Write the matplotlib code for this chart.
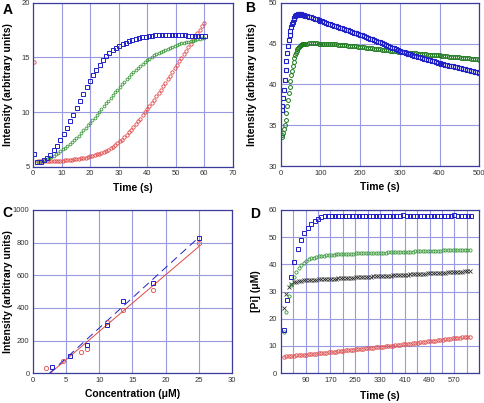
import numpy as np
import matplotlib
matplotlib.use('Agg')
from matplotlib import pyplot as plt

plt.rcParams['font.family'] = ['Liberation Sans', 'DejaVu Sans']

# ---------------- panel A: intensity vs time ----------------
a_blue_t = np.r_[0.3, np.arange(1.5, 60.2, 1.15)]
a_blue = [6.15,
          5.45, 5.45, 5.6, 5.8, 6.1, 6.5, 6.95, 7.45, 8.0, 8.55,
          9.15, 9.75, 10.4, 11.05, 11.7, 12.3, 12.85, 13.4, 13.9, 14.35,
          14.75, 15.1, 15.4, 15.65, 15.85, 16.05, 16.2, 16.35, 16.5, 16.6,
          16.7, 16.78, 16.85, 16.9, 16.95, 17.0, 17.02, 17.05, 17.08, 17.1,
          17.1, 17.1, 17.08, 17.05, 17.05, 17.02, 17.0, 17.0, 17.0, 17.0,
          16.98, 16.95]
a_green_t = np.arange(1.6, 60.05, 0.8)
a_green = [5.45, 5.45, 5.5, 5.6, 5.7, 5.8, 5.9, 6.0, 6.15, 6.3,
           6.45, 6.6, 6.75, 6.9, 7.05, 7.25, 7.45, 7.65, 7.85, 8.1,
           8.35, 8.55, 8.8, 9.0, 9.25, 9.5, 9.75, 10.0, 10.3, 10.55,
           10.8, 11.05, 11.3, 11.6, 11.85, 12.05, 12.3, 12.55, 12.8, 13.0,
           13.25, 13.45, 13.65, 13.85, 14.05, 14.25, 14.45, 14.6, 14.75, 14.9,
           15.05, 15.2, 15.3, 15.42, 15.53, 15.63, 15.73, 15.82, 15.9, 16.0,
           16.07, 16.15, 16.22, 16.28, 16.35, 16.4, 16.45, 16.5, 16.55, 16.6,
           16.65, 16.7, 16.75, 16.8]
a_red_t = np.r_[0.5, np.arange(1.6, 60.05, 0.8)]
a_red = [14.6,
         5.5, 5.5, 5.5, 5.5, 5.5, 5.5, 5.52, 5.52, 5.53, 5.55,
         5.55, 5.57, 5.58, 5.6, 5.62, 5.65, 5.68, 5.7, 5.73, 5.77,
         5.8, 5.85, 5.9, 5.95, 6.0, 6.07, 6.13, 6.2, 6.28, 6.37,
         6.47, 6.58, 6.7, 6.85, 7.0, 7.15, 7.32, 7.5, 7.7, 7.92,
         8.15, 8.4, 8.65, 8.9, 9.15, 9.42, 9.7, 9.98, 10.25, 10.55,
         10.85, 11.15, 11.45, 11.75, 12.05, 12.37, 12.7, 13.02, 13.35, 13.68,
         14.0, 14.32, 14.65, 14.97, 15.3, 15.62, 15.95, 16.27, 16.58, 16.9,
         17.2, 17.5, 17.85, 18.2]

# ---------------- panel B: longer time course ----------------
b_t = np.r_[np.arange(2, 61, 2), np.arange(65, 501, 5)]
b_blue = [36.9, 37.4, 38.3, 39.3, 40.5, 41.8, 42.9, 43.9, 44.7, 45.4,
          46.0, 46.6, 47.0, 47.4, 47.7, 48.0, 48.2, 48.35, 48.45, 48.5,
          48.55, 48.6, 48.6, 48.6, 48.58, 48.55, 48.52, 48.5, 48.47, 48.43,
          48.37, 48.3, 48.22, 48.14, 48.05, 47.97, 47.88, 47.8, 47.72, 47.63,
          47.55, 47.46, 47.38, 47.29, 47.21, 47.12, 47.04, 46.95, 46.87, 46.78,
          46.7, 46.61, 46.53, 46.44, 46.36, 46.27, 46.19, 46.1, 46.0, 45.91,
          45.82, 45.72, 45.62, 45.53, 45.44, 45.34, 45.25, 45.15, 45.05, 44.94,
          44.84, 44.73, 44.63, 44.52, 44.42, 44.31, 44.21, 44.1, 44.02, 43.94,
          43.86, 43.78, 43.7, 43.62, 43.54, 43.46, 43.38, 43.3, 43.23, 43.16,
          43.09, 43.02, 42.95, 42.88, 42.81, 42.74, 42.67, 42.6, 42.54, 42.48,
          42.43, 42.37, 42.31, 42.25, 42.2, 42.14, 42.08, 42.02, 41.97, 41.91,
          41.85, 41.79, 41.74, 41.68, 41.62, 41.56, 41.51, 41.45]
b_green = [33.6, 33.8, 34.1, 34.5, 35.0, 35.7, 36.5, 37.3, 38.1, 38.9,
           39.7, 40.4, 41.1, 41.7, 42.3, 42.8, 43.2, 43.6, 43.9, 44.15,
           44.35, 44.5, 44.63, 44.73, 44.8, 44.86, 44.9, 44.93, 44.95, 44.97,
           45.0, 45.02, 45.03, 45.03, 45.02, 45.02, 45.01, 45.0, 44.99, 44.98,
           44.97, 44.96, 44.95, 44.94, 44.92, 44.9, 44.88, 44.86, 44.84, 44.81,
           44.79, 44.76, 44.73, 44.7, 44.68, 44.65, 44.62, 44.6, 44.57, 44.54,
           44.51, 44.48, 44.45, 44.42, 44.39, 44.36, 44.33, 44.3, 44.27, 44.24,
           44.21, 44.18, 44.15, 44.12, 44.09, 44.06, 44.03, 44.0, 43.97, 43.95,
           43.92, 43.9, 43.87, 43.85, 43.82, 43.8, 43.77, 43.75, 43.72, 43.7,
           43.67, 43.65, 43.62, 43.6, 43.58, 43.56, 43.6, 43.55, 43.52, 43.5,
           43.47, 43.45, 43.42, 43.4, 43.37, 43.35, 43.32, 43.3, 43.27, 43.25,
           43.22, 43.2, 43.18, 43.15, 43.13, 43.1, 43.08, 43.05]

# ---------------- panel C: calibration ----------------
c_blue_x = [2.9, 5.6, 8.1, 11.2, 13.6, 18.1, 25.0]
c_blue = [40, 105, 170, 297, 443, 555, 828]
c_red_x = [2.0, 4.6, 7.2, 8.2, 11.2, 13.6, 18.1, 25.0]
c_red = [32, 73, 130, 147, 312, 388, 512, 800]
c_blue_fit_x = [2.5, 24.7]
c_blue_fit = [0, 820]
c_red_fit_x = [2.6, 25.0]
c_red_fit = [0, 775]

# ---------------- panel D: [Pi] vs time ----------------
d_blue_t = np.arange(20, 626, 11)
d_blue = [16.0, 27.0, 35.2, 41.0, 45.7, 49.0, 51.5, 53.4, 54.9, 56.0,
          56.8, 57.3, 57.6, 57.7, 57.8, 57.7, 57.8, 57.9, 57.7, 57.8,
          57.7, 57.8, 57.8, 57.7, 57.8, 57.9, 57.7, 57.8, 57.7, 57.8,
          57.8, 57.7, 57.8, 57.7, 57.8, 58.0, 57.7, 57.6, 57.7, 57.8,
          57.6, 57.7, 57.8, 57.7, 57.6, 57.8, 57.7, 57.8, 57.7, 57.9,
          58.1, 57.8, 57.6, 57.6, 57.7, 57.6]
d_t = np.arange(20, 621, 8)
d_green = [15.3, 22.5, 28.5, 32.5, 35.3, 37.2, 38.6, 39.7, 40.6, 41.3,
           41.8, 42.2, 42.5, 42.75, 42.95, 43.1, 43.25, 43.35, 43.45, 43.55,
           43.6, 43.65, 43.7, 43.75, 43.8, 43.85, 43.9, 43.9, 43.95, 44.0,
           44.0, 44.05, 44.1, 44.1, 44.15, 44.2, 44.2, 44.25, 44.3, 44.3,
           44.35, 44.35, 44.4, 44.45, 44.45, 44.5, 44.5, 44.55, 44.6, 44.6,
           44.65, 44.7, 44.7, 44.75, 44.8, 44.8, 44.85, 44.9, 44.9, 44.95,
           45.0, 45.0, 45.05, 45.05, 45.1, 45.1, 45.15, 45.2, 45.2, 45.25,
           45.3, 45.3, 45.35, 45.35, 45.4, 45.45]
d_black = [23.8, 29.0, 31.5, 32.8, 33.4, 33.7, 33.9, 34.0, 34.1, 34.2,
           34.25, 34.3, 34.35, 34.4, 34.45, 34.5, 34.55, 34.6, 34.65, 34.7,
           34.75, 34.8, 34.85, 34.9, 34.95, 35.0, 35.05, 35.1, 35.15, 35.2,
           35.25, 35.3, 35.35, 35.4, 35.45, 35.5, 35.55, 35.6, 35.65, 35.7,
           35.75, 35.8, 35.85, 35.9, 35.95, 36.0, 36.05, 36.1, 36.15, 36.2,
           36.25, 36.3, 36.35, 36.4, 36.45, 36.5, 36.55, 36.6, 36.65, 36.7,
           36.75, 36.8, 36.85, 36.9, 36.95, 37.0, 37.05, 37.1, 37.15, 37.2,
           37.25, 37.3, 37.35, 37.4, 37.45, 37.5]
d_red = [6.1, 6.18, 6.26, 6.34, 6.42, 6.5, 6.58, 6.66, 6.74, 6.82,
         6.9, 7.0, 7.1, 7.2, 7.3, 7.4, 7.5, 7.6, 7.68, 7.77,
         7.87, 7.96, 8.06, 8.15, 8.25, 8.35, 8.45, 8.55, 8.64, 8.73,
         8.82, 8.92, 9.01, 9.1, 9.2, 9.29, 9.39, 9.48, 9.58, 9.67,
         9.77, 9.87, 9.97, 10.07, 10.17, 10.27, 10.37, 10.47, 10.57, 10.67,
         10.78, 10.89, 11.0, 11.11, 11.22, 11.33, 11.44, 11.55, 11.66, 11.77,
         11.88, 11.99, 12.1, 12.21, 12.32, 12.43, 12.54, 12.65, 12.76, 12.87,
         12.97, 13.07, 13.17, 13.27, 13.37, 13.47]

blue = '#2020c8'
green = '#3c9a3c'
red = '#e04848'
gridc = '#9a9ae0'
framec = '#3c3c9c'
tickfont = ['Liberation Sans Narrow', 'Liberation Sans', 'DejaVu Sans']
lab = dict(fontsize=7.5, fontweight='bold')


def style(ax, xlim, ylim, xticks, yticks):
    ax.set_xlim(*xlim)
    ax.set_ylim(*ylim)
    ax.set_xticks(xticks)
    ax.set_yticks(yticks)
    ax.grid(True, color=gridc, lw=0.8)
    ax.set_axisbelow(True)
    for s in ax.spines.values():
        s.set_color(framec)
        s.set_linewidth(0.9)
    ax.tick_params(length=0, labelsize=5.5, pad=2.5, labelcolor='#333333')
    for t in ax.get_xticklabels() + ax.get_yticklabels():
        t.set_family(tickfont)


fig = plt.figure(figsize=(4.85, 4.03), dpi=100)
axA = fig.add_axes([0.068, 0.586, 0.412, 0.407])
axB = fig.add_axes([0.579, 0.588, 0.409, 0.405])
axC = fig.add_axes([0.068, 0.074, 0.410, 0.405])
axD = fig.add_axes([0.579, 0.074, 0.409, 0.405])

# A
style(axA, (0, 70), (5, 20), range(0, 71, 10), [5, 10, 15, 20])
axA.plot(a_red_t, a_red, 'o', mfc='none', mec=red, ms=2.4, mew=0.6)
axA.plot(a_green_t, a_green, 'o', mfc='none', mec=green, ms=2.0, mew=0.6)
axA.plot(a_blue_t, a_blue, 's', mfc='none', mec=blue, ms=2.6, mew=0.7)
axA.set_xlabel('Time (s)', **lab)
axA.set_ylabel('Intensity (arbitrary units)', **lab)

# B
style(axB, (0, 500), (30, 50), range(0, 501, 100), range(30, 51, 5))
axB.plot(b_t, b_green, 'o', mfc='none', mec='#1e7a1e', ms=2.8, mew=0.7)
axB.plot(b_t, b_blue, 's', mfc='none', mec=blue, ms=3.1, mew=0.8)
axB.set_xlabel('Time (s)', **lab)
axB.set_ylabel('Intensity (arbitrary units)', **lab)

# C
style(axC, (0, 30), (0, 1000), range(0, 31, 5), range(0, 1001, 200))
axC.plot(c_red_fit_x, c_red_fit, '-', color=red, lw=0.7)
axC.plot(c_blue_fit_x, c_blue_fit, '-', color=blue, lw=0.7, dashes=(8, 5))
axC.plot(c_red_x, c_red, 'o', mfc='none', mec=red, ms=3.0, mew=0.6)
axC.plot(c_blue_x, c_blue, 's', mfc='none', mec=blue, ms=3.2, mew=0.7)
axC.set_xlabel('Concentration (\u03bcM)', **lab)
axC.set_ylabel('Intensity (arbitrary units)', **lab)

# D
style(axD, (10, 650), (0, 60), range(90, 571, 80), range(0, 61, 10))
axD.set_xticks(range(50, 651, 80), minor=True)
axD.grid(True, which='minor', axis='x', color=gridc, lw=0.8)
axD.tick_params(which='minor', length=0)
axD.plot(d_t, d_red, 'o', mfc='none', mec=red, ms=2.5, mew=0.6)
axD.plot(d_t, d_black, 'x', color='#333333', ms=2.4, mew=0.6)
axD.plot(d_t, d_green, 'o', mfc='none', mec=green, ms=2.3, mew=0.6)
axD.plot(d_blue_t, d_blue, 's', mfc='none', mec=blue, ms=3.0, mew=0.7)
axD.set_xlabel('Time (s)', **lab)
axD.set_ylabel('[Pi] (\u03bcM)', **lab)

# label positions (axes fraction)
axA.xaxis.set_label_coords(0.5, -0.10)
axB.xaxis.set_label_coords(0.5, -0.10)
axC.xaxis.set_label_coords(0.5, -0.095)
axD.xaxis.set_label_coords(0.5, -0.11)
axA.yaxis.set_label_coords(-0.10, 0.5)
axB.yaxis.set_label_coords(-0.12, 0.5)
axC.yaxis.set_label_coords(-0.10, 0.5)
axD.yaxis.set_label_coords(-0.10, 0.5)

for x, y, s in [(0.006, 0.965, 'A'), (0.505, 0.97, 'B'), (0.004, 0.462, 'C'), (0.515, 0.46, 'D')]:
    fig.text(x, y, s, fontsize=10, fontweight='bold')

fig.savefig('out.png', dpi=100)
